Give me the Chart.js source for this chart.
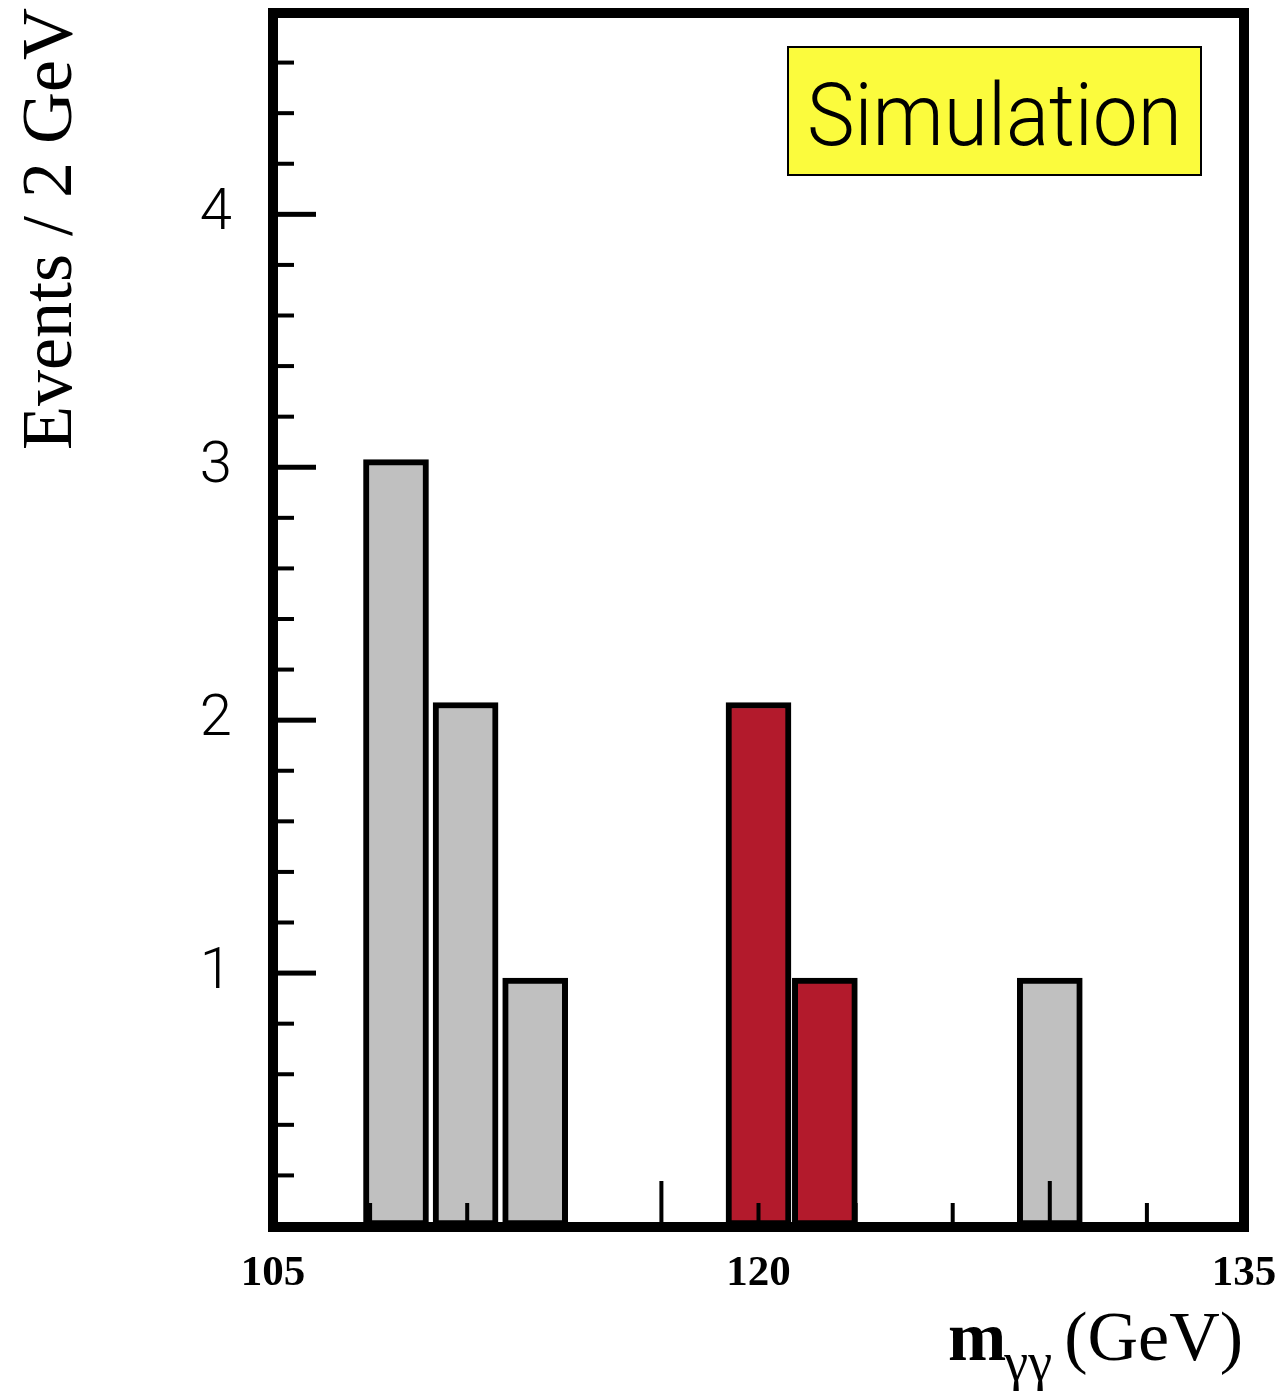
<!DOCTYPE html>
<html><head><meta charset="utf-8">
<script src="https://cdn.jsdelivr.net/npm/chart.js@4.4.1/dist/chart.umd.min.js"></script>
<style>html,body{margin:0;padding:0;background:#fff}#wrap{width:1285px;height:1391px;position:relative}</style>
</head><body><div id="wrap"><canvas id="c" width="1285" height="1391"></canvas></div>
<script>
// ---- data ----
const xTickLabels = [105, 120, 135];
const xLongTicks = [117, 129];
const yTickLabels = [1, 2, 3, 4];
const grayCenters = [108.8, 110.95, 113.1, 129.0];
const grayValues = [3.03, 2.07, 0.98, 0.98];
const redCenters = [120.0, 122.05];
const redValues = [2.07, 0.98];
const badgeText = 'Simulation';
const yTitle = 'Events / 2 GeV';
const xTitleMain = 'm';
const xTitleSub = 'γγ';
const xTitleUnit = '(GeV)';

const toPoints = (xs, ys) => xs.map((x, i) => ({x: x, y: ys[i]}));
const isInt = v => Math.abs(v - Math.round(v)) < 1e-6;
const noPad = s => { s.paddingTop = 0; s.paddingBottom = 0; s.paddingLeft = 0; s.paddingRight = 0; };

const decor = {
  id: 'decor',
  afterDatasetsDraw(chart) {
    const ctx = chart.ctx, ca = chart.chartArea;
    const xs = chart.scales.x, ys = chart.scales.y;
    ctx.save();
    ctx.fillStyle = '#000';
    xs.ticks.forEach(t => {
      if (t.value <= xs.min || t.value >= xs.max) return;
      const px = xs.getPixelForValue(t.value);
      const len = xLongTicks.includes(Math.round(t.value)) ? 45 : 23;
      ctx.fillRect(px - 2, ca.bottom - len, 4, len);
    });
    ys.ticks.forEach(t => {
      if (t.value <= ys.min || t.value >= ys.max) return;
      const py = ys.getPixelForValue(t.value);
      if (isInt(t.value)) ctx.fillRect(ca.left, py - 2.5, 43, 5);
      else ctx.fillRect(ca.left, py - 2, 21, 4);
    });
    ctx.strokeStyle = '#000';
    ctx.lineWidth = 10;
    ctx.strokeRect(ca.left, ca.top + 1, ca.right - ca.left, ca.bottom - ca.top);
    ctx.restore();
  },
  afterDraw(chart) {
    const ctx = chart.ctx;
    ctx.save();
    // Simulation badge
    ctx.fillStyle = '#fbfb3d';
    ctx.fillRect(788, 47, 413, 128);
    ctx.strokeStyle = '#000';
    ctx.lineWidth = 2;
    ctx.strokeRect(788, 47, 413, 128);
    ctx.fillStyle = '#000';
    ctx.font = '300 87px Roboto, "Liberation Sans", Arial, sans-serif';
    const w = ctx.measureText(badgeText).width;
    ctx.save();
    ctx.translate(807, 145);
    ctx.scale(375 / w, 1);
    ctx.textBaseline = 'alphabetic';
    ctx.textAlign = 'left';
    ctx.fillText(badgeText, 0, 0);
    ctx.restore();
    // y title
    ctx.save();
    ctx.translate(71, 8);
    ctx.rotate(-Math.PI / 2);
    ctx.font = '72px "Liberation Serif", "Times New Roman", serif';
    ctx.textAlign = 'right';
    ctx.textBaseline = 'alphabetic';
    ctx.fillText(yTitle, 0, 0);
    ctx.restore();
    // x title
    const base = 1360;
    ctx.textBaseline = 'alphabetic';
    ctx.textAlign = 'right';
    ctx.font = '70px "Liberation Serif", "Times New Roman", serif';
    ctx.fillText(xTitleUnit, 1243, base);
    ctx.font = '54px "Liberation Serif", "Times New Roman", serif';
    ctx.fillText(xTitleSub, 1052, base + 20);
    const sw = ctx.measureText(xTitleSub).width;
    ctx.font = 'bold 70px "Liberation Serif", "Times New Roman", serif';
    ctx.fillText(xTitleMain, 1052 - sw + 2, base);
    ctx.restore();
  }
};

new Chart(document.getElementById('c'), {
  type: 'bar',
  data: {
    datasets: [
      {data: toPoints(grayCenters, grayValues), backgroundColor: '#c0c0c0', borderColor: '#000', borderWidth: 6, borderSkipped: false, barThickness: 65, grouped: false},
      {data: toPoints(redCenters, redValues), backgroundColor: '#b31a2c', borderColor: '#000', borderWidth: 6, borderSkipped: false, barThickness: 65, grouped: false}
    ]
  },
  options: {
    responsive: false,
    devicePixelRatio: 1,
    animation: false,
    layout: {padding: {top: 12, right: 41, left: 0, bottom: 0}},
    plugins: {legend: {display: false}, tooltip: {enabled: false}},
    scales: {
      x: {
        type: 'linear', min: 105, max: 135, offset: false,
        grid: {display: false, drawTicks: false}, border: {display: false},
        ticks: {
          stepSize: 3, autoSkip: false, maxRotation: 0, padding: 22, color: '#000',
          font: {family: '"Liberation Serif", "Times New Roman", serif', size: 43, weight: 'bold'},
          callback: v => xTickLabels.includes(Math.round(v)) && isInt(v) ? String(Math.round(v)) : ''
        },
        afterFit: s => { s.height = 165; noPad(s); }
      },
      y: {
        min: 0, max: 4.8,
        grid: {display: false, drawTicks: false}, border: {display: false},
        ticks: {
          stepSize: 0.2, autoSkip: false, padding: 41, color: '#000',
          font: {family: 'Roboto, "Liberation Sans", sans-serif', size: 58, weight: '300'},
          callback: v => (isInt(v) && yTickLabels.includes(Math.round(v))) ? String(Math.round(v)) : ''
        },
        afterFit: s => { s.width = 273; noPad(s); }
      }
    }
  },
  plugins: [decor]
});
</script></body></html>
